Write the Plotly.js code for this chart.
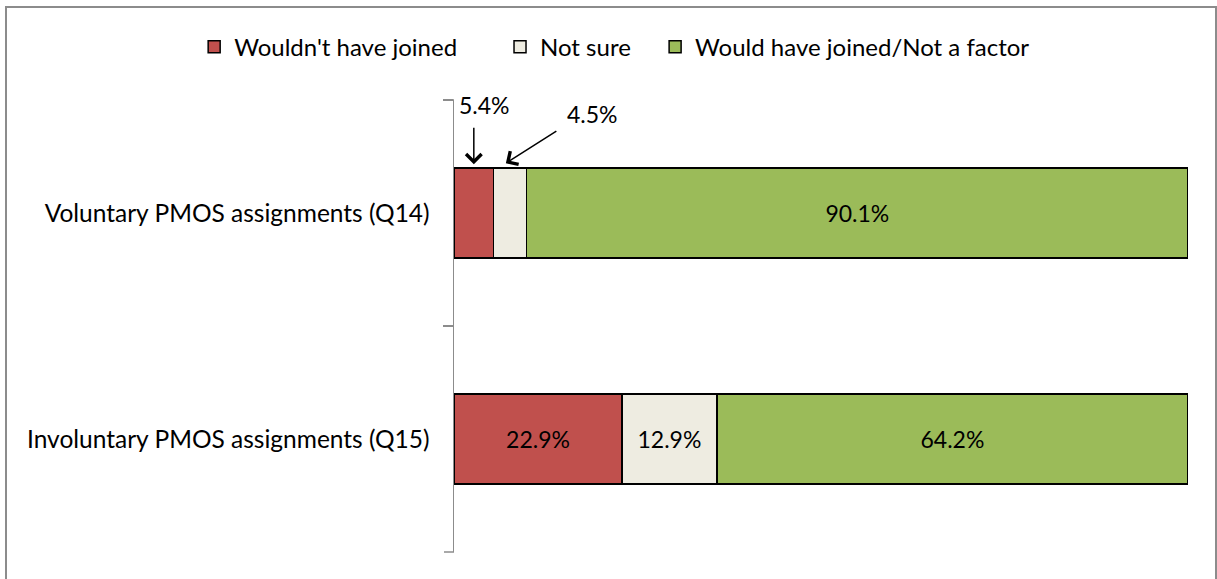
<!DOCTYPE html>
<html><head><meta charset="utf-8">
<script src="https://cdn.plot.ly/plotly-3.0.1.min.js"></script>
<style>
html,body{margin:0;padding:0;background:#fff;overflow:hidden;}
#wrap{position:relative;width:1217px;height:579px;overflow:hidden;}
#chart{width:1217px;height:579px;}
#frame{position:absolute;left:5px;top:6px;width:1212px;height:600px;box-sizing:border-box;border:2px solid #8c8c8c;pointer-events:none;}
</style></head>
<body>
<div id="wrap"><div id="chart"></div><div id="frame"></div></div>
<script>
const categories = ["Voluntary PMOS assignments (Q14)", "Involuntary PMOS assignments (Q15)"];
const seriesNames = ["Wouldn't have joined", "Not sure", "Would have joined/Not a factor"];
const wouldntJoin = [5.4, 22.9];
const notSure = [4.5, 12.9];
const wouldJoin = [90.1, 64.2];
const colors = ["#C0504D", "#EEECE1", "#9BBB59"];

const FONT = "Lato, 'Open Sans', sans-serif";
const seriesVals = [wouldntJoin, notSure, wouldJoin];
const legendIds = ['legend', 'legend2', 'legend3'];

const traces = seriesVals.map((vals, i) => ({
  type: 'bar',
  orientation: 'h',
  name: seriesNames[i],
  legend: legendIds[i],
  y: categories,
  x: vals,
  text: vals.map(v => v >= 10 ? v.toFixed(1) + '%' : ''),
  textposition: 'inside',
  insidetextanchor: 'middle',
  textangle: 0,
  textfont: {family: FONT, size: 23, color: '#000'},
  marker: {color: colors[i], line: {color: '#000', width: 1.5}},
  hoverinfo: 'skip'
}));

const cum0 = wouldntJoin[0];
const arrowStyle = {text: '', showarrow: true, arrowhead: 4, arrowsize: 2, arrowwidth: 1.5, arrowcolor: '#000', font: {size: 2}};
const annotations = [
  Object.assign({xref:'x', yref:'paper', x: wouldntJoin[0]/2, y: 0.858, ax: 0, ay: -38}, arrowStyle),
  Object.assign({xref:'x', yref:'paper', x: cum0 + notSure[0]*0.37, y: 0.86, ax: 52, ay: -33}, arrowStyle),
  {xref:'x', yref:'paper', x: 0.35, y: 0.99, xanchor:'left', yanchor:'middle', text: wouldntJoin[0].toFixed(1) + '%', showarrow: false, font:{family: FONT, size: 23, color:'#000'}},
  {xref:'x', yref:'paper', x: 18.9, y: 0.968, xanchor:'center', yanchor:'middle', text: notSure[0].toFixed(1) + '%', showarrow: false, font:{family: FONT, size: 23, color:'#000'}}
];

const axisGray = '#8c8c8c';
const shapes = [
  {type:'line', xref:'paper', yref:'paper', xsizemode:'pixel', xanchor: 0, x0: -10, x1: 0, y0: 1, y1: 1, line:{color: axisGray, width: 1.5}},
  {type:'line', xref:'paper', yref:'paper', xsizemode:'pixel', xanchor: 0, x0: -10, x1: 0, y0: 0, y1: 0, line:{color: axisGray, width: 1.5}}
];

const legendBase = {orientation: 'h', xref: 'paper', xanchor: 'left', yref: 'paper', y: 1.117, yanchor: 'middle',
                    font: {family: FONT, size: 24, color: '#000'}, itemclick: false, bgcolor: 'rgba(0,0,0,0)'};

const layout = {
  width: 1217, height: 579,
  margin: {l: 454, r: 29, t: 100, b: 27, autoexpand: false},
  paper_bgcolor: '#fff', plot_bgcolor: '#fff',
  barmode: 'stack',
  bargap: 0.6,
  font: {family: FONT, size: 24, color: '#000'},
  showlegend: true,
  legend: Object.assign({}, legendBase, {x: -0.354}),
  legend2: Object.assign({}, legendBase, {x: 0.0627}),
  legend3: Object.assign({}, legendBase, {x: 0.274}),
  xaxis: {range: [0, 100], visible: false, fixedrange: true},
  yaxis: {type: 'category', autorange: 'reversed', tickson: 'boundaries', ticks: 'outside', ticklen: 10, tickwidth: 1.5,
          tickcolor: axisGray, showline: true, linecolor: axisGray, linewidth: 1.5, showgrid: false, zeroline: false,
          ticklabelstandoff: 18, tickfont: {family: FONT, size: 24.5, color: '#000'}, fixedrange: true},
  shapes: shapes,
  annotations: annotations
};

Plotly.newPlot('chart', traces, layout, {displayModeBar: false, staticPlot: true});
</script>
</body></html>
